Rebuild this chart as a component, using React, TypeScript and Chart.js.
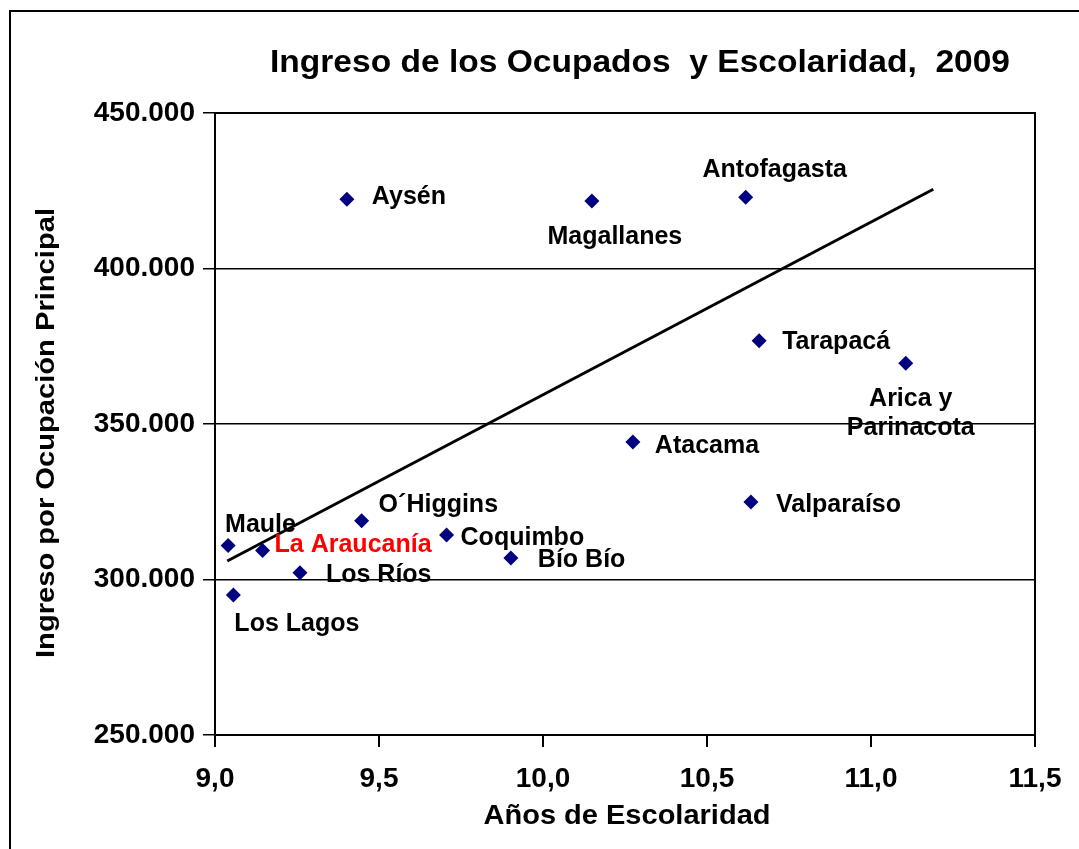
import React, { useEffect, useRef } from 'react';
import { Chart, registerables } from 'chart.js';

Chart.register(...registerables);

// ---- data ----
const regions = ['Maule', 'La Araucanía', 'Los Lagos', 'Los Ríos', 'O´Higgins', 'Coquimbo', 'Bío Bío', 'Aysén', 'Magallanes', 'Antofagasta', 'Tarapacá', 'Arica y Parinacota', 'Atacama', 'Valparaíso'];
const schoolingYears = [9.04, 9.145, 9.056, 9.259, 9.447, 9.706, 9.902, 9.402, 10.149, 10.618, 10.659, 11.106, 10.274, 10.634];
const incomeMain = [310900, 309300, 295000, 302200, 318900, 314300, 306900, 422300, 421700, 422900, 376800, 369500, 344200, 324900];
const trendSchooling = [9.0375, 11.19];
const trendIncome = [305950, 425470];
const xTickValues = [9.0, 9.5, 10.0, 10.5, 11.0, 11.5];
const yTickValues = [250000, 300000, 350000, 400000, 450000];

const chartTitle = 'Ingreso de los Ocupados  y Escolaridad,  2009';
const xTitle = 'Años de Escolaridad';
const yTitle = 'Ingreso por Ocupación Principal';

// ---- label layout (style, not data) ----
type LabelLayout = { dx: number; dy: number; align: CanvasTextAlign; color?: string; lines?: string[]; lineGap?: number };
const labelLayout: Record<string, LabelLayout> = {
  'Maule': { dx: -3, dy: -20, align: 'left' },
  'La Araucanía': { dx: 12, dy: -5, align: 'left', color: '#FF0000' },
  'Los Lagos': { dx: 1, dy: 29, align: 'left' },
  'Los Ríos': { dx: 26, dy: 2, align: 'left' },
  'O´Higgins': { dx: 17, dy: -16, align: 'left' },
  'Coquimbo': { dx: 14, dy: 3, align: 'left' },
  'Bío Bío': { dx: 27, dy: 2, align: 'left' },
  'Aysén': { dx: 25, dy: -2, align: 'left' },
  'Magallanes': { dx: 23, dy: 36, align: 'center' },
  'Antofagasta': { dx: 29, dy: -27, align: 'center' },
  'Tarapacá': { dx: 23, dy: 1, align: 'left' },
  'Arica y Parinacota': { dx: 5, dy: 36, align: 'center', lines: ['Arica y', 'Parinacota'], lineGap: 29 },
  'Atacama': { dx: 22, dy: 4, align: 'left' },
  'Valparaíso': { dx: 25, dy: 3, align: 'left' },
};

const FONT = '"Liberation Sans", Arial, Helvetica, sans-serif';

function drawStretched(ctx: CanvasRenderingContext2D, text: string, x: number, y: number, font: string, targetWidth: number, rotate = 0) {
  ctx.save();
  ctx.font = font;
  const w = ctx.measureText(text).width;
  const sx = targetWidth / w;
  ctx.translate(x, y);
  if (rotate) ctx.rotate(rotate);
  ctx.scale(sx, 1);
  ctx.textAlign = 'center';
  ctx.textBaseline = 'alphabetic';
  ctx.fillStyle = '#000';
  ctx.fillText(text, 0, 0);
  ctx.restore();
}

const decorPlugin = {
  id: 'decor',
  afterDatasetsDraw(chart: any) {
    const ctx: CanvasRenderingContext2D = chart.ctx;
    const xs = chart.scales.x;
    const ys = chart.scales.y;
    ctx.save();
    ctx.font = `bold 25px ${FONT}`;
    ctx.textBaseline = 'middle';
    regions.forEach((name, i) => {
      const lay = labelLayout[name];
      if (!lay) return;
      const px = xs.getPixelForValue(schoolingYears[i]);
      const py = ys.getPixelForValue(incomeMain[i]);
      ctx.fillStyle = lay.color || '#000';
      ctx.textAlign = lay.align;
      const lines = lay.lines || [name];
      lines.forEach((ln, k) => {
        ctx.fillText(ln, px + lay.dx, py + lay.dy + k * (lay.lineGap || 0));
      });
    });
    ctx.restore();
  },
  afterDraw(chart: any) {
    const ctx: CanvasRenderingContext2D = chart.ctx;
    const a = chart.chartArea;
    ctx.save();
    ctx.strokeStyle = '#000';
    ctx.lineWidth = 2;
    ctx.strokeRect(a.left, a.top, a.right - a.left, a.bottom - a.top);
    ctx.beginPath();
    ctx.moveTo(10, chart.height + 5);
    ctx.lineTo(10, 11);
    ctx.lineTo(chart.width + 5, 11);
    ctx.stroke();
    ctx.restore();
    drawStretched(ctx, chartTitle, 640, 72, `bold 31px ${FONT}`, 740);
    drawStretched(ctx, xTitle, 627, 824, `bold 27px ${FONT}`, 287);
    drawStretched(ctx, yTitle, 54, 433, `bold 25px ${FONT}`, 450, -Math.PI / 2);
  },
};

export default function App() {
  const ref = useRef<HTMLCanvasElement | null>(null);

  useEffect(() => {
    if (!ref.current) return;
    const chart = new Chart(ref.current, {
      type: 'scatter',
      data: {
        datasets: [
          {
            label: 'Regiones',
            data: regions.map((_, i) => ({ x: schoolingYears[i], y: incomeMain[i] })),
            backgroundColor: '#000080',
            borderColor: '#000080',
            pointStyle: 'rectRot',
            pointRadius: 7.5,
            borderWidth: 0,
            order: 2,
          },
          {
            label: 'Tendencia',
            data: trendSchooling.map((x, i) => ({ x, y: trendIncome[i] })),
            showLine: true,
            borderColor: '#000',
            borderWidth: 3,
            pointRadius: 0,
            fill: false,
            order: 1,
          },
        ],
      },
      options: {
        responsive: false,
        animation: false,
        devicePixelRatio: 1,
        layout: { padding: { top: 113, right: 44, left: 0, bottom: 0 } },
        plugins: {
          legend: { display: false },
          title: { display: false },
          tooltip: { enabled: false },
        },
        scales: {
          x: {
            type: 'linear',
            min: 9,
            max: 11.5,
            afterBuildTicks: (s: any) => { s.ticks = xTickValues.map((v) => ({ value: v })); },
            afterFit: (s: any) => { s.height = 114; },
            ticks: {
              color: '#000',
              font: { family: FONT, size: 28, weight: 'bold' },
              padding: 15,
              maxRotation: 0,
              callback: (v: any) => Number(v).toFixed(1).replace('.', ','),
            },
            grid: { drawOnChartArea: false, drawTicks: true, tickLength: 12, color: '#000', lineWidth: 2 },
            border: { display: true, color: '#000', width: 2 },
          },
          y: {
            type: 'linear',
            min: 250000,
            max: 450000,
            afterBuildTicks: (s: any) => { s.ticks = yTickValues.map((v) => ({ value: v })); },
            afterFit: (s: any) => { s.width = 215; },
            ticks: {
              color: '#000',
              font: { family: FONT, size: 28, weight: 'bold' },
              padding: 8,
              callback: (v: any) => Number(v).toLocaleString('de-DE'),
            },
            grid: { drawOnChartArea: true, drawTicks: true, tickLength: 12, color: '#000', lineWidth: 1.5 },
            border: { display: true, color: '#000', width: 2 },
          },
        },
      },
      plugins: [decorPlugin],
    } as any);
    return () => chart.destroy();
  }, []);

  return (
    <div style={{ position: 'absolute', left: 0, top: 0, width: 1079, height: 849, background: '#fff', overflow: 'hidden' }}>
      <canvas ref={ref} width={1079} height={849} style={{ display: 'block' }} />
    </div>
  );
}
